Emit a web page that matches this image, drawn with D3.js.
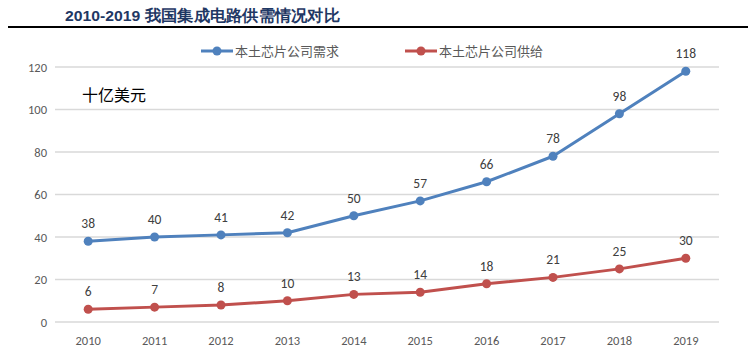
<!DOCTYPE html>
<html><head><meta charset="utf-8">
<script src="https://cdn.jsdelivr.net/npm/d3@7"></script>
<style>body{margin:0;background:#fff;}svg{display:block;}</style>
</head><body>
<svg id="c" width="748" height="359"></svg>
<script>
const years = ["2010","2011","2012","2013","2014","2015","2016","2017","2018","2019"];
const demand = [38,40,41,42,50,57,66,78,98,118];
const supply = [6,7,8,10,13,14,18,21,25,30];
const yTicks = [0,20,40,60,80,100,120];
const seriesNames = ["本土芯片公司需求","本土芯片公司供给"];
const colors = ["#4F81BD","#C0504D"];

const svg = d3.select("#c");
const x = d3.scaleBand().domain(years).range([55,719]);
const y = d3.scaleLinear().domain([0,120]).range([322,67]);

// title
svg.append("text").attr("x",65).attr("y",21).attr("font-family","Liberation Sans, Arial, sans-serif")
  .attr("font-weight","bold").attr("font-size",15.5).attr("fill","#1F3864")
  .attr("textLength",275).attr("lengthAdjust","spacingAndGlyphs")
  .text("2010-2019 我国集成电路供需情况对比");
svg.append("line").attr("x1",8).attr("x2",748).attr("y1",27).attr("y2",27).attr("stroke","#000").attr("stroke-width",2);

// grid
svg.append("g").selectAll("line").data(yTicks).join("line")
  .attr("x1",55).attr("x2",719).attr("y1",d=>y(d)).attr("y2",d=>y(d))
  .attr("stroke","#D9D9D9").attr("stroke-width",1.3);

// y axis
const ya = svg.append("g").attr("transform","translate(47,0)")
  .call(d3.axisLeft(y).tickValues(yTicks).tickSize(0).tickPadding(0));
ya.select(".domain").remove();
ya.selectAll("text").attr("font-family","Calibri, Carlito, Liberation Sans, sans-serif").attr("font-size",12.5).attr("fill","#595959");

// x axis
const xa = svg.append("g").attr("transform","translate(0,335)")
  .call(d3.axisBottom(x).tickSize(0).tickPadding(0));
xa.select(".domain").remove();
xa.selectAll("text").attr("font-family","Calibri, Carlito, Liberation Sans, sans-serif").attr("font-size",12.5).attr("fill","#595959").attr("dy","0.8em");

// unit label
svg.append("text").attr("x",82).attr("y",101).attr("font-family","Noto Sans CJK SC, sans-serif")
  .attr("font-size",16).attr("fill","#000").text("十亿美元");

const cx = d => x(d) + x.bandwidth()/2;
[demand, supply].forEach((vals,i)=>{
  const data = years.map((yr,j)=>({yr, v: vals[j]}));
  svg.append("path").datum(data)
    .attr("d", d3.line().x(d=>cx(d.yr)).y(d=>y(d.v)))
    .attr("fill","none").attr("stroke",colors[i]).attr("stroke-width",3).attr("stroke-linejoin","round");
  svg.append("g").selectAll("circle").data(data).join("circle")
    .attr("cx",d=>cx(d.yr)).attr("cy",d=>y(d.v)).attr("r",4.5).attr("fill",colors[i]);
  svg.append("g").selectAll("text").data(data).join("text")
    .attr("x",d=>cx(d.yr)).attr("y",d=>y(d.v)-13).attr("text-anchor","middle")
    .attr("font-family","Calibri, Carlito, Liberation Sans, sans-serif").attr("font-size",13.5).attr("fill","#404040")
    .text(d=>d.v);
});

// legend
const legX = [201,405];
seriesNames.forEach((n,i)=>{
  const g = svg.append("g").attr("transform",`translate(${legX[i]},51)`);
  g.append("line").attr("x1",0).attr("x2",32).attr("stroke",colors[i]).attr("stroke-width",3);
  g.append("circle").attr("cx",16).attr("r",4.5).attr("fill",colors[i]);
  g.append("text").attr("x",34).attr("y",5).attr("font-family","Noto Sans CJK SC, sans-serif")
    .attr("font-size",13).attr("fill","#595959").text(n);
});
</script>
</body></html>
